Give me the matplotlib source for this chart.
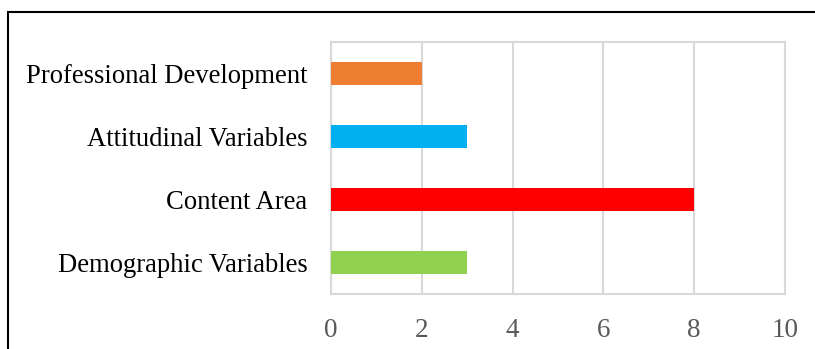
import matplotlib
matplotlib.use("Agg")
import matplotlib.pyplot as plt
from matplotlib.patches import Rectangle

# data (bottom to top, as drawn)
categories = ["Demographic Variables", "Content Area",
              "Attitudinal Variables", "Professional Development"]
counts = [3, 8, 3, 2]
bar_colors = ["#92D050", "#FF0000", "#00B0F0", "#ED7D31"]
x_ticks = [0, 2, 4, 6, 8, 10]

plt.rcParams["font.family"] = ["Liberation Serif", "DejaVu Serif"]

fig = plt.figure(figsize=(8.15, 3.49), dpi=100)
ax = fig.add_axes([331 / 815, 1 - 294 / 349, 454 / 815, 252 / 349])

ax.barh(range(len(categories)), counts, height=0.35, color=bar_colors, zorder=3)

ax.set_xlim(0, 10)
ax.set_ylim(-0.5, len(categories) - 0.5)
ax.set_xticks(x_ticks)
ax.set_yticks(range(len(categories)))
ax.set_yticklabels(categories, fontsize=19.2, color="black")
ax.tick_params(axis="x", labelsize=19.5, labelcolor="#595959", length=0, pad=17)
ax.tick_params(axis="y", length=0, pad=17)
ax.grid(axis="x", color="#D9D9D9", linewidth=1.5, zorder=0)

for side in ["top", "right", "bottom", "left"]:
    ax.spines[side].set_color("#D9D9D9")
    ax.spines[side].set_linewidth(1.5)

# outer frame around the figure (bottom edge cut off in the original)
fig.patches.append(Rectangle((8 / 815, -0.1), 1.2, 1 - 12 / 349 + 0.1,
                             transform=fig.transFigure, fill=False,
                             edgecolor="black", linewidth=1.5))

fig.savefig("out.png", dpi=100)
